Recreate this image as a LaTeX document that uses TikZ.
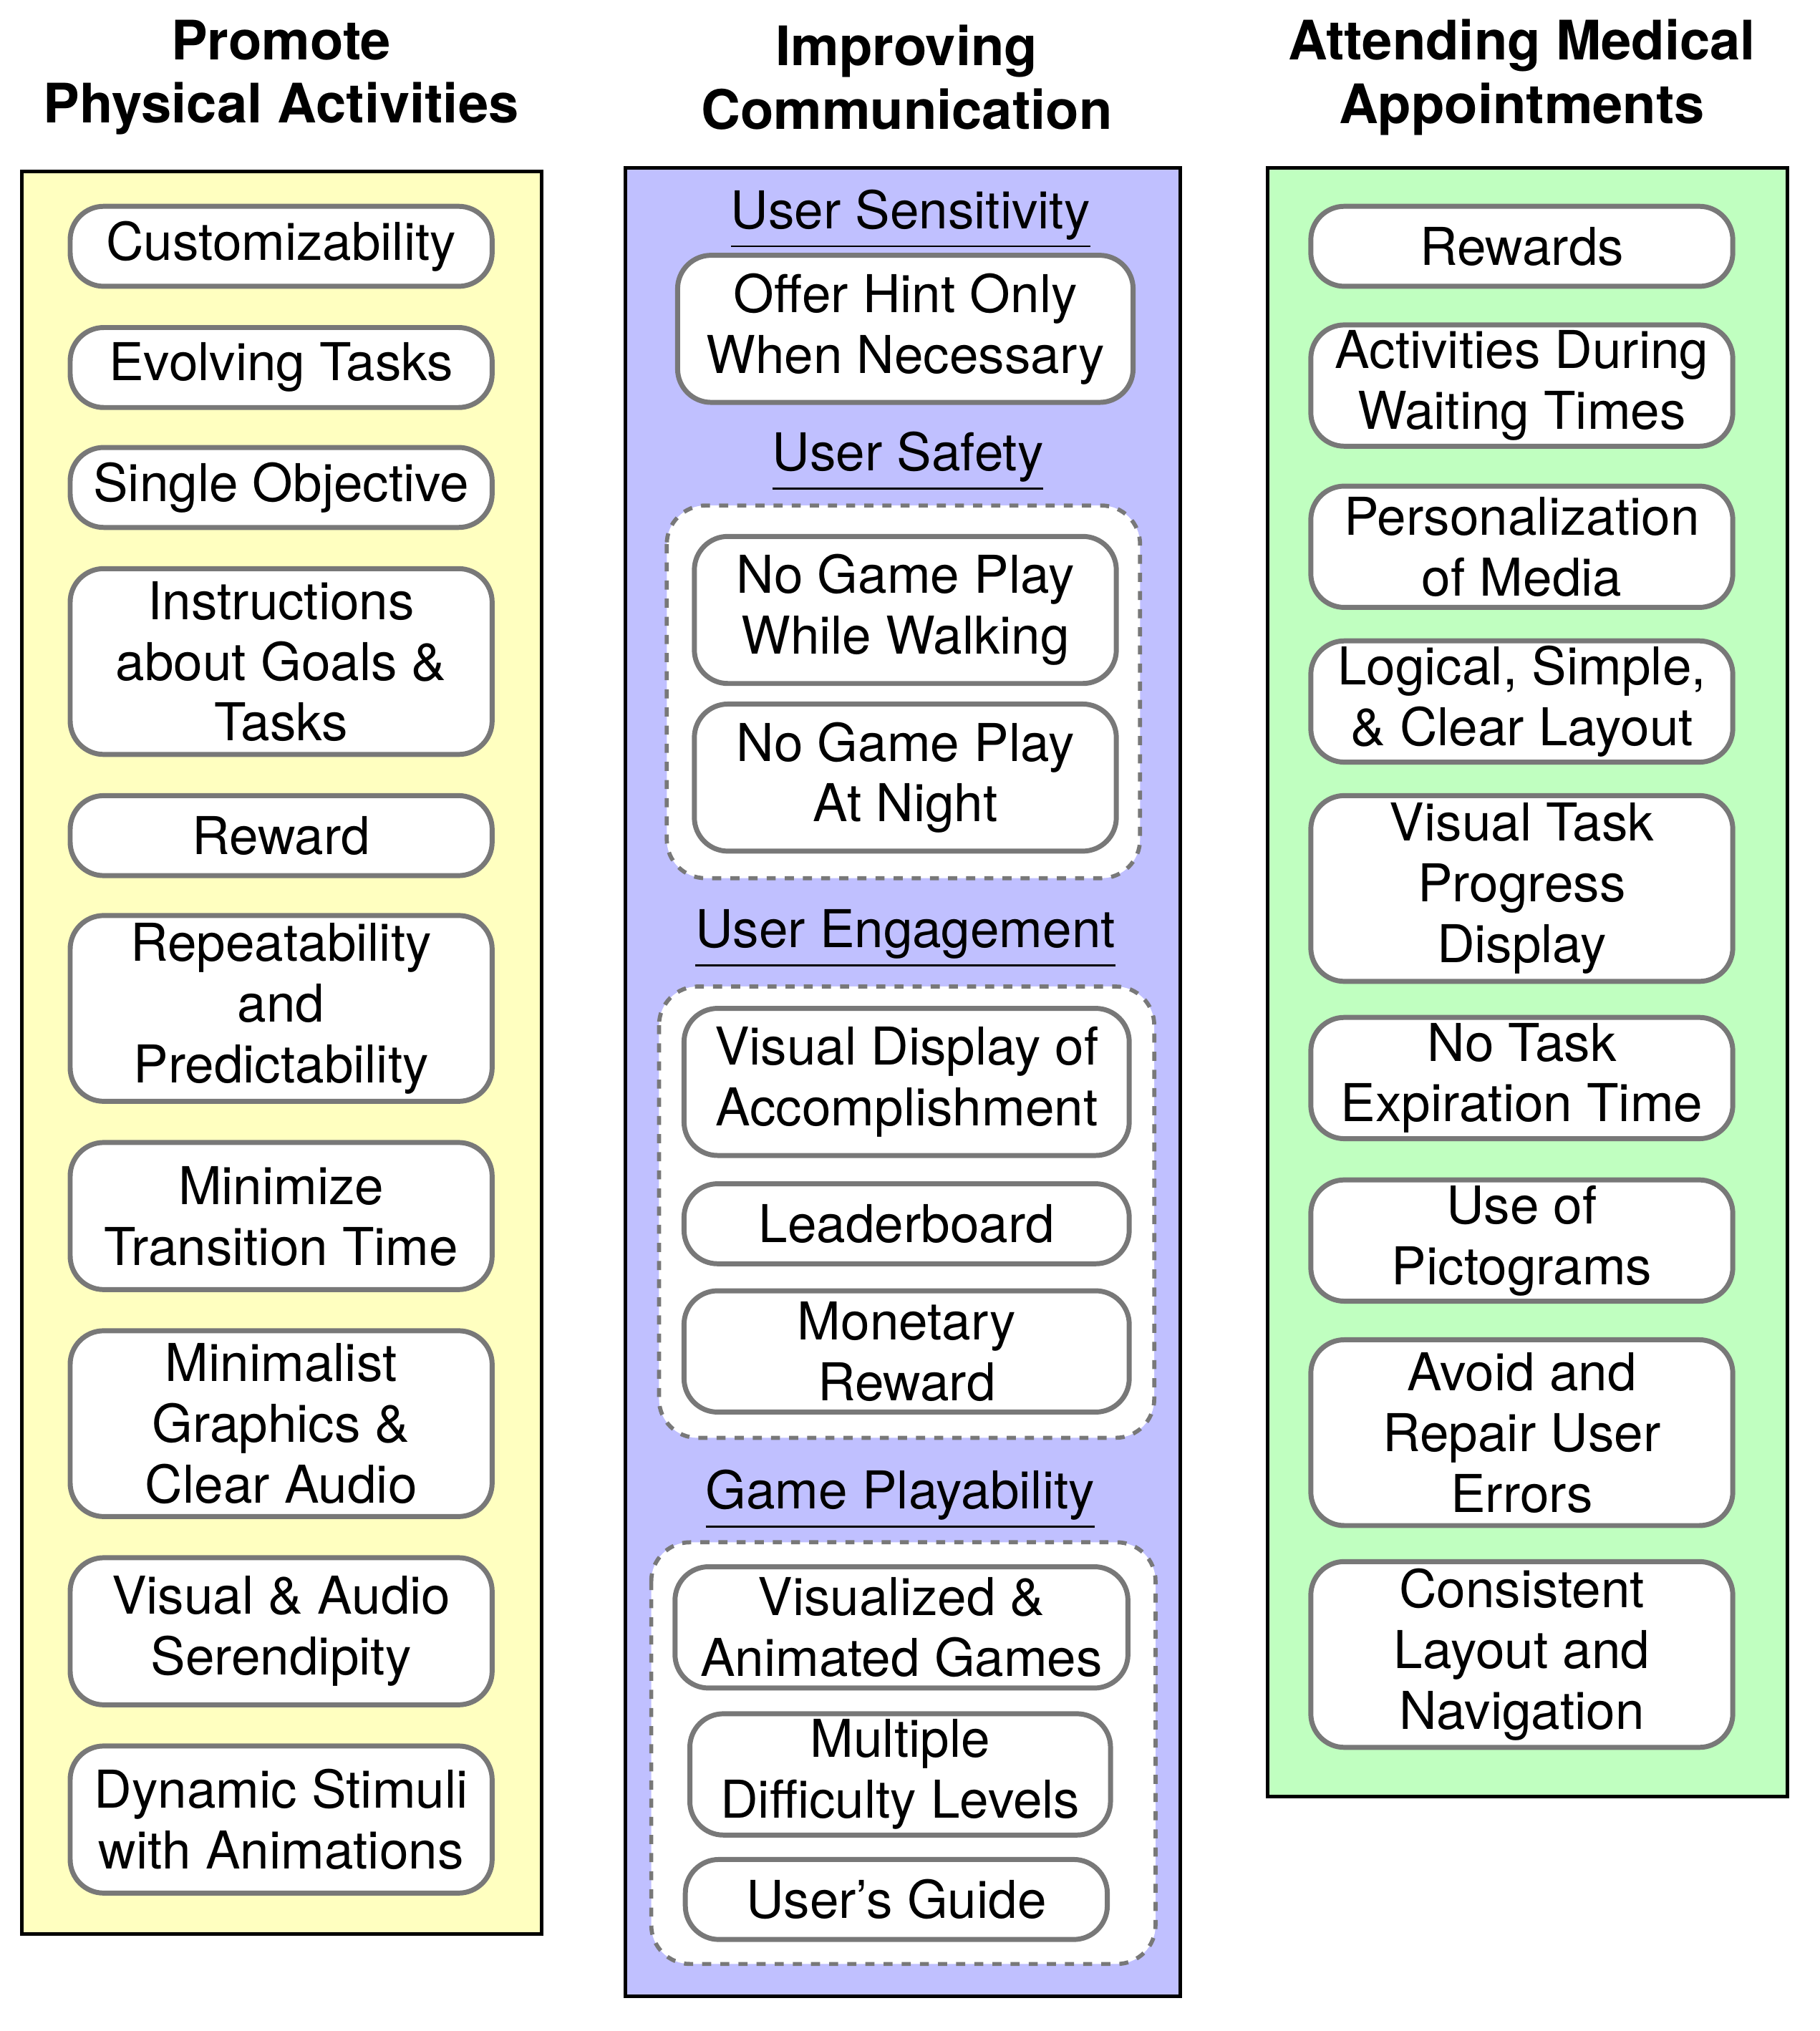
\documentclass[tikz,border=0pt]{standalone}
\usepackage{fontspec}
\setmainfont{TeX Gyre Heros}
\usetikzlibrary{positioning}
\definecolor{colyellow}{RGB}{255,255,192}
\definecolor{colblue}{RGB}{192,192,255}
\definecolor{colgreen}{RGB}{192,255,192}
\definecolor{boxgray}{RGB}{120,120,120}
\tikzset{every node/.style={font=\fontsize{11.5}{13.4}\selectfont},
    item/.style={draw=boxgray,line width=1.1pt,fill=white,rounded corners=0.26cm,
        align=center,inner sep=0pt,minimum width=3.27cm},
    panel/.style={draw=black,line width=0.8pt},
    group/.style={draw=boxgray,line width=0.9pt,dash pattern=on 2pt off 2pt,
        fill=white,rounded corners=0.3cm},
    title/.style={align=center,font=\fontsize{12}{14}\selectfont\bfseries},
    head/.style={align=center}}
\begin{document}
\begin{tikzpicture}[x=0.01cm,y=-0.01cm]
\useasboundingbox (0,0) rectangle (1411,1575);
% column 1
\node[title] (t1) at (218,60) {Promote\\Physical Activities};
\draw[panel,fill=colyellow] (17,133) rectangle (420,1500);
\node[item,minimum height=0.62cm] (a1) at (218,191) {Customizability};
\node[item,minimum height=0.62cm] (a2) at (218,285) {Evolving Tasks};
\node[item,minimum height=0.62cm] (a3) at (218,378) {Single Objective};
\node[item,minimum height=1.44cm] (a4) at (218,513) {Instructions\\about Goals \&\\Tasks};
\node[item,minimum height=0.62cm] (a5) at (218,648) {Reward};
\node[item,minimum height=1.44cm] (a6) at (218,782) {Repeatability\\and\\Predictability};
\node[item,minimum height=1.14cm] (a7) at (218,943) {Minimize\\Transition Time};
\node[item,minimum height=1.44cm] (a8) at (218,1104) {Minimalist\\Graphics \&\\Clear Audio};
\node[item,minimum height=1.14cm] (a9) at (218,1265) {Visual \& Audio\\Serendipity};
\node[item,minimum height=1.14cm] (a10) at (218,1411) {Dynamic Stimuli\\with Animations};
% column 2
\node[title] (t2) at (703,60) {Improving\\Communication};
\draw[panel,fill=colblue] (485,130) rectangle (915,1548);
\node[head] (h1) at (706,170) {\underline{User Sensitivity}};
\node[item,minimum width=3.53cm,minimum height=1.14cm] (b1) at (702,255) {Offer Hint Only\\When Necessary};
\node[head] (h2) at (704,358) {\underline{User Safety}};
\draw[group] (517,392) rectangle (884,681);
\node[item,minimum height=1.14cm] (b2) at (702,473) {No Game Play\\While Walking};
\node[item,minimum height=1.14cm] (b3) at (702,603) {No Game Play\\At Night};
\node[head] (h3) at (702,728) {\underline{User Engagement}};
\draw[group] (511,765) rectangle (895,1115);
\node[item,minimum width=3.45cm,minimum height=1.14cm] (b4) at (703,839) {Visual Display of\\Accomplishment};
\node[item,minimum width=3.45cm,minimum height=0.62cm] (b5) at (703,949) {Leaderboard};
\node[item,minimum width=3.45cm,minimum height=0.94cm] (b6) at (703,1048) {Monetary\\Reward};
\node[head] (h4) at (698,1163) {\underline{Game Playability}};
\draw[group] (505,1196) rectangle (896,1523);
\node[item,minimum width=3.51cm,minimum height=0.94cm] (b7) at (699,1262) {Visualized \&\\Animated Games};
\node[item,minimum width=3.26cm,minimum height=0.94cm] (b8) at (698,1376) {Multiple\\Difficulty Levels};
\node[item,minimum width=3.27cm,minimum height=0.62cm] (b9) at (695,1473) {User's Guide};
% column 3
\node[title] (t3) at (1180,60) {Attending Medical\\Appointments};
\draw[panel,fill=colgreen] (983,130) rectangle (1386,1393);
\node[item,minimum height=0.62cm] (c1) at (1180,191) {Rewards};
\node[item,minimum height=0.94cm] (c2) at (1180,299) {Activities During\\Waiting Times};
\node[item,minimum height=0.94cm] (c3) at (1180,424) {Personalization\\of Media};
\node[item,minimum height=0.94cm] (c4) at (1180,544) {Logical, Simple,\\\& Clear Layout};
\node[item,minimum height=1.44cm] (c5) at (1180,689) {Visual Task\\Progress\\Display};
\node[item,minimum height=0.94cm] (c6) at (1180,836) {No Task\\Expiration Time};
\node[item,minimum height=0.94cm] (c7) at (1180,962) {Use of\\Pictograms};
\node[item,minimum height=1.44cm] (c8) at (1180,1111) {Avoid and\\Repair User\\Errors};
\node[item,minimum height=1.44cm] (c9) at (1180,1283) {Consistent\\Layout and\\Navigation};
\end{tikzpicture}
\end{document}
